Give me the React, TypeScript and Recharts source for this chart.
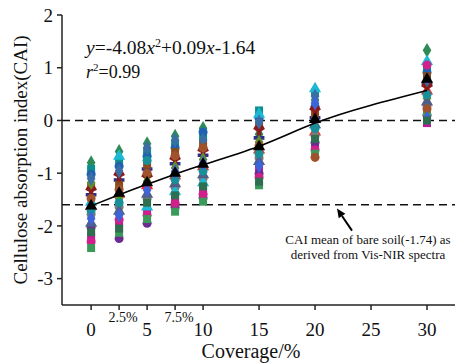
import { ReferenceLine, Scatter, ScatterChart, XAxis, YAxis, ZAxis } from "recharts";

const coverage = [0, 2.5, 5, 7.5, 10, 15, 20, 30];
const xTicks = [0, 2.5, 5, 7.5, 10, 15, 20, 25, 30];
const yTicks = [-3, -2, -1, 0, 1, 2];

// CAI per sample at each coverage level (same sample order in every array)
const cai0 = [-0.8, -0.92, -1.02, -1.41, -1.63, -2.2, -1.78, -1.26, -1.55, -2.03, -1.33, -1.18, -1.1, -2.3, -2.42, -1.95, -1.48, -1.71, -1.86, -2.12];
const cai2_5 = [-0.59, -0.78, -0.87, -1.13, -1.4, -1.96, -1.64, -1.22, -0.68, -2.24, -1.05, -1.48, -0.96, -1.88, -2.13, -1.72, -1.31, -1.56, -1.8, -2.05];
const cai5 = [-0.44, -0.6, -0.68, -0.92, -1.24, -1.72, -1.48, -0.84, -1.64, -1.95, -1.08, -1.16, -0.52, -1.8, -1.87, -1.4, -1.0, -0.76, -1.32, -1.56];
const cai7_5 = [-0.3, -0.45, -0.52, -0.82, -1.05, -1.5, -1.27, -0.6, -1.35, -1.65, -0.75, -0.9, -0.37, -1.57, -1.73, -1.2, -0.67, -1.12, -0.97, -1.42];
const cai10 = [-0.15, -0.3, -0.22, -0.66, -0.88, -1.32, -1.1, -0.44, -1.18, -1.47, -0.59, -0.74, -0.37, -1.4, -1.54, -1.03, -0.52, -0.96, -0.81, -1.25];
const cai15 = [-0.26, 0.19, 0.04, -0.33, -0.56, -0.93, -0.71, -0.11, 0.12, -1.01, -0.18, -0.41, -0.03, -1.08, -1.23, -0.78, -0.48, -0.63, -0.86, -1.16];
const cai20 = [0.39, 0.53, 0.26, 0.05, -0.22, -0.49, -0.29, 0.12, 0.6, -0.42, 0.19, -0.02, 0.46, -0.56, -0.63, -0.08, -0.7, -0.15, 0.33, -0.35];
const cai30 = [1.33, 0.98, 0.91, 0.7, 0.56, -0.05, 0.28, 0.84, 1.12, 0.1, 0.63, 0.42, 0.77, 1.05, 0.16, 0.35, 0.22, 0.49, 0.04, 0.0];
const caiByCoverage = [cai0, cai2_5, cai5, cai7_5, cai10, cai15, cai20, cai30];

const meanCai = [-1.62, -1.38, -1.18, -1.0, -0.83, -0.5, 0.02, 0.78];

const fitCoverage = [0, 2.5, 5, 7.5, 10, 15, 20, 25, 30];
const fitCai = [-1.62, -1.41, -1.21, -1.02, -0.84, -0.49, -0.05, 0.29, 0.57];

const bareSoilCai = -1.6;

const sampleColors = [
  "#2e8b57", "#0e8f8f", "#1f62b0", "#2c2c8a", "#ff1f1f",
  "#c2189a", "#7b7b7b", "#8b4a1c", "#1cb8d4", "#6a2c91",
  "#8b1a1a", "#5f8f2a", "#3a6ea5", "#d0208c", "#3a9a5a",
  "#4f5f86", "#a0522d", "#17909a", "#3d64d8", "#2f6f4f"
];
const sampleShapes = [
  "diamond", "square", "circle", "cross", "triangle",
  "square", "circle", "square", "triangle", "circle",
  "wye", "diamond", "diamond", "circle", "square",
  "triangle", "circle", "circle", "diamond", "square"
] as const;

const font = '"Liberation Serif", "DejaVu Serif", serif';
const textStyle = { fontFamily: font };

const samples = sampleColors.map((color, i) => ({
  color,
  shape: sampleShapes[i],
  data: coverage.map((x, j) => ({ x, y: caiByCoverage[j][i] }))
}));
const meanData = coverage.map((x, j) => ({ x, y: meanCai[j] }));
const fitData = fitCoverage.map((x, j) => ({ x, y: fitCai[j] }));

function CoverageTick({ x, y, payload }: any) {
  const value = payload.value;
  if (value === 2.5 || value === 7.5) {
    return (
      <text x={x + 4} y={y + 10} textAnchor="middle" fontSize={14} style={textStyle} fill="#111">
        {value}%
      </text>
    );
  }
  return (
    <text x={x} y={y + 24} textAnchor="middle" fontSize={19} style={textStyle} fill="#111">
      {value}
    </text>
  );
}

function ArrowShape({ x1, y1, x2, y2 }: any) {
  const dx = x2 - x1;
  const dy = y2 - y1;
  const len = Math.sqrt(dx * dx + dy * dy) || 1;
  const ux = dx / len;
  const uy = dy / len;
  const head = 9;
  const bx = x2 - ux * head;
  const by = y2 - uy * head;
  return (
    <g>
      <line x1={x1} y1={y1} x2={bx} y2={by} stroke="#000" strokeWidth={2} />
      <polygon
        points={`${x2},${y2} ${bx - uy * 4},${by + ux * 4} ${bx + uy * 4},${by - ux * 4}`}
        fill="#000"
      />
    </g>
  );
}

export default function App() {
  return (
    <div style={{ position: "absolute", left: 0, top: 0, background: "#fff", fontFamily: font }}>
      <ScatterChart
        width={466}
        height={364}
        margin={{ top: 15, right: 11, bottom: 0, left: 0 }}
        style={textStyle}
      >
        <XAxis
          type="number"
          dataKey="x"
          domain={[-2.6, 32.5]}
          ticks={xTicks}
          height={59}
          tickSize={5}
          tickMargin={2}
          axisLine={{ stroke: "#222", strokeWidth: 1.5 }}
          tickLine={{ stroke: "#222", strokeWidth: 1.5 }}
          tick={<CoverageTick />}
          allowDataOverflow
        />
        <YAxis
          type="number"
          dataKey="y"
          domain={[-3.5, 2]}
          ticks={yTicks}
          width={62}
          tickSize={5}
          tickMargin={4}
          axisLine={{ stroke: "#222", strokeWidth: 1.5 }}
          tickLine={{ stroke: "#222", strokeWidth: 1.5 }}
          tick={{ fontSize: 19, fill: "#111", style: textStyle }}
          allowDataOverflow
        />
        <ZAxis range={[30, 30]} />
        <ReferenceLine y={0} stroke="#111" strokeWidth={1.5} strokeDasharray="8 5" />
        <ReferenceLine y={bareSoilCai} stroke="#111" strokeWidth={1.5} strokeDasharray="8 5" />
        {samples.map((s, i) => (
          <Scatter
            key={i}
            data={s.data}
            fill={s.color}
            shape={s.shape}
            isAnimationActive={false}
          />
        ))}
        <Scatter
          data={fitData}
          line={{ stroke: "#000", strokeWidth: 1.6 }}
          lineType="joint"
          lineJointType="natural"
          shape={() => <g />}
          isAnimationActive={false}
        />
        <Scatter data={meanData} fill="#000" shape="triangle" isAnimationActive={false} />
        <ReferenceLine
          segment={[
            { x: 23.3, y: -2.09 },
            { x: 21.96, y: -1.67 }
          ]}
          shape={<ArrowShape />}
        />
        <text x={86} y={54} fontSize={19.5} style={textStyle} fill="#111">
          <tspan fontStyle="italic">y</tspan>
          <tspan>=-4.08</tspan>
          <tspan fontStyle="italic">x</tspan>
          <tspan dy={-7} fontSize={12}>2</tspan>
          <tspan dy={7}>+0.09</tspan>
          <tspan fontStyle="italic">x</tspan>
          <tspan>-1.64</tspan>
        </text>
        <text x={86} y={78} fontSize={18} style={textStyle} fill="#111">
          <tspan fontStyle="italic">r</tspan>
          <tspan dy={-7} fontSize={11}>2</tspan>
          <tspan dy={7}>=0.99</tspan>
        </text>
        <text x={368} y={244} textAnchor="middle" fontSize={13} style={textStyle} fill="#111">
          CAI mean of bare soil(-1.74) as
        </text>
        <text x={368} y={259} textAnchor="middle" fontSize={13} style={textStyle} fill="#111">
          derived from Vis-NIR spectra
        </text>
        <text
          x={27}
          y={160}
          transform="rotate(-90, 27, 160)"
          textAnchor="middle"
          fontSize={19}
          style={textStyle}
          fill="#111"
        >
          Cellulose absorption index(CAI)
        </text>
        <text x={251} y={358} textAnchor="middle" fontSize={20} style={textStyle} fill="#111">
          Coverage/%
        </text>
      </ScatterChart>
    </div>
  );
}
